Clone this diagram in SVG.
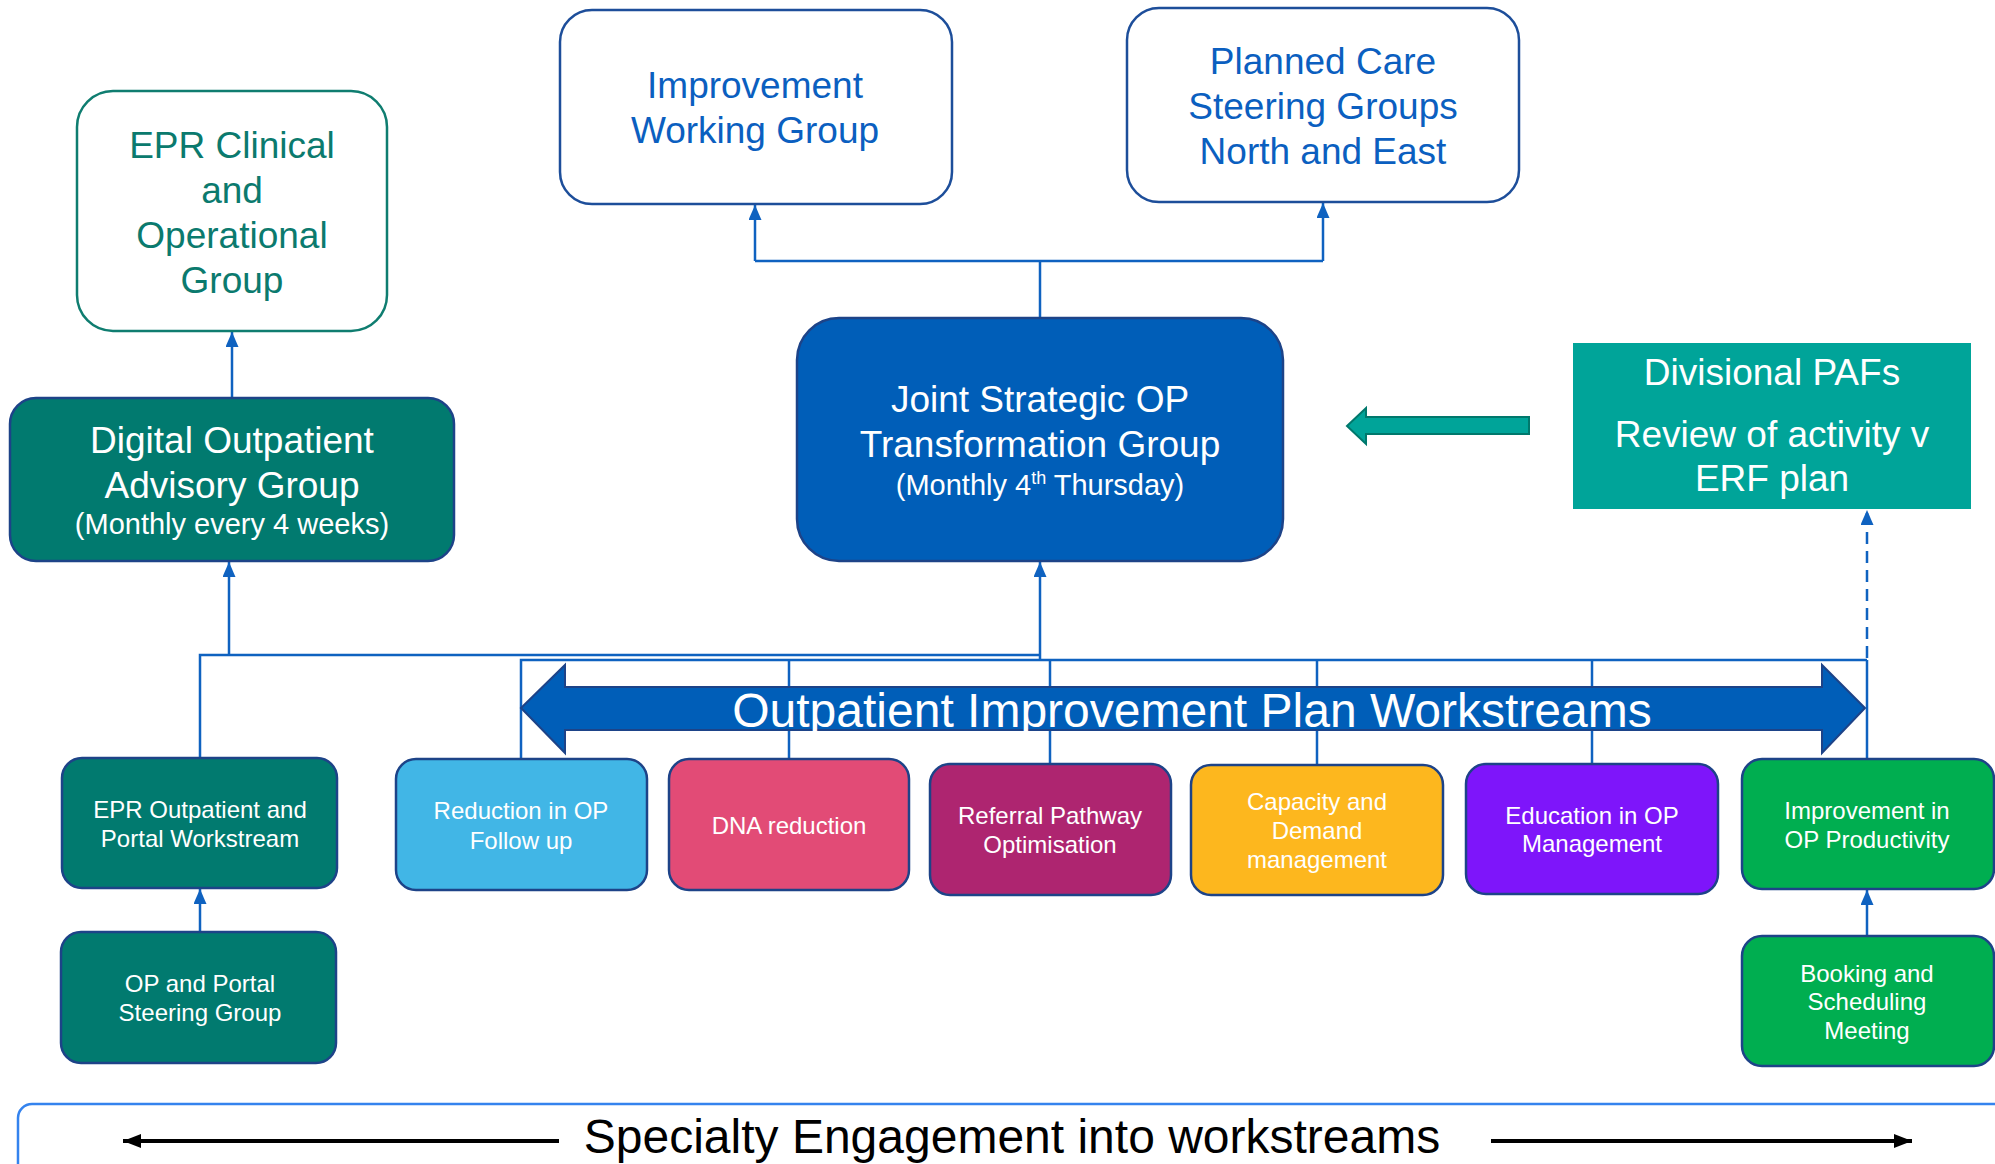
<svg xmlns="http://www.w3.org/2000/svg" width="1995" height="1164" viewBox="0 0 1995 1164">
  <style>
    text { font-family: "Liberation Sans", Arial, sans-serif; text-anchor: middle; }
    .big { font-size: 37px; }
    .mid { font-size: 29px; }
    .small { font-size: 24px; fill: #ffffff; }
    .white { fill: #ffffff; }
    .blueText { fill: #0B5FC0; }
    .tealText { fill: #0B7A6E; }
    .ws { stroke: #1D4388; stroke-width: 2.5; }
    .conn { fill: none; stroke: #0F62C0; stroke-width: 2.5; }
  </style>
  <defs>
    <!-- blue connector arrowhead, drawn along +x so orient="auto" turns it with the line -->
    <marker id="arr" markerWidth="15" markerHeight="13" refX="15" refY="6.5" orient="auto" markerUnits="userSpaceOnUse" viewBox="0 0 15 13">
      <path d="M0,0 L15,6.5 L0,13 Z" fill="#0F62C0"/>
    </marker>
    <marker id="blk" markerWidth="18" markerHeight="14" refX="18" refY="7" orient="auto" markerUnits="userSpaceOnUse" viewBox="0 0 18 14">
      <path d="M0,0 L18,7 L0,14 Z" fill="#000000"/>
    </marker>
  </defs>

  <rect width="1995" height="1164" fill="#ffffff"/>

  <!-- connectors -->
  <g id="connectors">
    <!-- Joint group up to the two top groups -->
    <path class="conn" d="M1040,318 V261"/>
    <path class="conn" d="M755,261 H1323"/>
    <path class="conn" d="M755,261 V205" marker-end="url(#arr)"/>
    <path class="conn" d="M1323,261 V203" marker-end="url(#arr)"/>
    <!-- Digital group up to EPR clinical -->
    <path class="conn" d="M232,398 V332" marker-end="url(#arr)"/>
    <!-- left bus -->
    <path class="conn" d="M200,758 V655 H1040"/>
    <path class="conn" d="M229,655 V562" marker-end="url(#arr)"/>
    <!-- workstream bus -->
    <path class="conn" d="M521,759 V660 H1867"/>
    <path class="conn" d="M1040,660 V562" marker-end="url(#arr)"/>
    <path class="conn" d="M789,660 V759"/>
    <path class="conn" d="M1050,660 V764"/>
    <path class="conn" d="M1317,660 V765"/>
    <path class="conn" d="M1592,660 V764"/>
    <path class="conn" d="M1867,660 V759"/>
    <!-- dashed feed to divisional PAFs -->
    <path class="conn" d="M1867,658 V510" stroke-dasharray="12,7" marker-end="url(#arr)"/>
    <!-- sub-group arrows -->
    <path class="conn" d="M200,932 V889" marker-end="url(#arr)"/>
    <path class="conn" d="M1867,936 V890" marker-end="url(#arr)"/>
  </g>

  <!-- workstreams banner arrow -->
  <g id="workstreams-banner">
    <path d="M521,708 L565,665 L565,687 L1822,687 L1822,665 L1865,708 L1822,753 L1822,730 L565,730 L565,753 Z" fill="#005EB8" stroke="#1D4388" stroke-width="2"/>
    <text x="1192" y="727" font-size="48" class="white">Outpatient Improvement Plan Workstreams</text>
  </g>

  <!-- top groups -->
  <g id="epr-clinical">
    <rect x="77" y="91" width="310" height="240" rx="36" fill="#ffffff" stroke="#0F7D70" stroke-width="2.5"/>
    <text class="big tealText" x="232" y="158">EPR Clinical</text>
    <text class="big tealText" x="232" y="203">and</text>
    <text class="big tealText" x="232" y="248">Operational</text>
    <text class="big tealText" x="232" y="293">Group</text>
  </g>

  <g id="improvement-working-group">
    <rect x="560" y="10" width="392" height="194" rx="32" fill="#ffffff" stroke="#1D4E9A" stroke-width="2.5"/>
    <text class="big blueText" x="755" y="98">Improvement</text>
    <text class="big blueText" x="755" y="143">Working Group</text>
  </g>

  <g id="planned-care">
    <rect x="1127" y="8" width="392" height="194" rx="32" fill="#ffffff" stroke="#1D4E9A" stroke-width="2.5"/>
    <text class="big blueText" x="1323" y="74">Planned Care</text>
    <text class="big blueText" x="1323" y="119">Steering Groups</text>
    <text class="big blueText" x="1323" y="164">North and East</text>
  </g>

  <g id="digital-outpatient">
    <rect x="10" y="398" width="444" height="163" rx="26" fill="#017A6F" stroke="#1D4388" stroke-width="2.5"/>
    <text class="big white" x="232" y="453">Digital Outpatient</text>
    <text class="big white" x="232" y="498">Advisory Group</text>
    <text class="mid white" x="232" y="534">(Monthly every 4 weeks)</text>
  </g>

  <g id="joint-strategic">
    <rect x="797" y="318" width="486" height="243" rx="42" fill="#005EB8" stroke="#1D4388" stroke-width="2.5"/>
    <text class="big white" x="1040" y="412">Joint Strategic OP</text>
    <text class="big white" x="1040" y="457">Transformation Group</text>
    <text class="mid white" x="1040" y="495">(Monthly 4<tspan font-size="18" dy="-11">th</tspan><tspan dy="11"> Thursday)</tspan></text>
  </g>

  <g id="divisional-pafs">
    <rect x="1573" y="343" width="398" height="166" fill="#00A499"/>
    <text class="big white" x="1772" y="385">Divisional PAFs</text>
    <text class="big white" x="1772" y="447">Review of activity v</text>
    <text class="big white" x="1772" y="491">ERF plan</text>
  </g>

  <g id="paf-arrow">
    <path d="M1347,426 L1366,408 L1366,417 L1529,417 L1529,434 L1366,434 L1366,444 Z" fill="#00A499" stroke="#00786C" stroke-width="2"/>
  </g>

  <!-- workstream boxes -->
  <g id="epr-outpatient">
    <rect class="ws" x="62" y="758" width="275" height="130" rx="20" fill="#017A6F"/>
    <text class="small" x="200" y="818">EPR Outpatient and</text>
    <text class="small" x="200" y="847">Portal Workstream</text>
  </g>

  <g id="op-portal-steering">
    <rect class="ws" x="61" y="932" width="275" height="131" rx="20" fill="#017A6F"/>
    <text class="small" x="200" y="992">OP and Portal</text>
    <text class="small" x="200" y="1021">Steering Group</text>
  </g>

  <g id="reduction-follow-up">
    <rect class="ws" x="396" y="759" width="251" height="131" rx="20" fill="#41B6E6"/>
    <text class="small" x="521" y="819">Reduction in OP</text>
    <text class="small" x="521" y="849">Follow up</text>
  </g>

  <g id="dna-reduction">
    <rect class="ws" x="669" y="759" width="240" height="131" rx="20" fill="#E24B76"/>
    <text class="small" x="789" y="834">DNA reduction</text>
  </g>

  <g id="referral-pathway">
    <rect class="ws" x="930" y="764" width="241" height="131" rx="20" fill="#AE2570"/>
    <text class="small" x="1050" y="824">Referral Pathway</text>
    <text class="small" x="1050" y="853">Optimisation</text>
  </g>

  <g id="capacity-demand">
    <rect class="ws" x="1191" y="765" width="252" height="130" rx="20" fill="#FDB71E"/>
    <text class="small" x="1317" y="810">Capacity and</text>
    <text class="small" x="1317" y="839">Demand</text>
    <text class="small" x="1317" y="868">management</text>
  </g>

  <g id="education">
    <rect class="ws" x="1466" y="764" width="252" height="130" rx="20" fill="#7E15FA"/>
    <text class="small" x="1592" y="824">Education in OP</text>
    <text class="small" x="1592" y="852">Management</text>
  </g>

  <g id="op-productivity">
    <rect class="ws" x="1742" y="759" width="252" height="130" rx="20" fill="#00AE50"/>
    <text class="small" x="1867" y="819">Improvement in</text>
    <text class="small" x="1867" y="848">OP Productivity</text>
  </g>

  <g id="booking-scheduling">
    <rect class="ws" x="1742" y="936" width="252" height="130" rx="20" fill="#00AE50"/>
    <text class="small" x="1867" y="982">Booking and</text>
    <text class="small" x="1867" y="1010">Scheduling</text>
    <text class="small" x="1867" y="1039">Meeting</text>
  </g>

  <!-- specialty engagement band -->
  <g id="specialty-engagement">
    <rect x="18" y="1104" width="2000" height="100" rx="14" fill="#ffffff" stroke="#3483EE" stroke-width="2.5"/>
    <line x1="559" y1="1141" x2="123" y2="1141" stroke="#000000" stroke-width="4" marker-end="url(#blk)"/>
    <line x1="1491" y1="1141" x2="1912" y2="1141" stroke="#000000" stroke-width="4" marker-end="url(#blk)"/>
    <text x="1012" y="1153" font-size="48" fill="#000000">Specialty Engagement into workstreams</text>
  </g>
</svg>
